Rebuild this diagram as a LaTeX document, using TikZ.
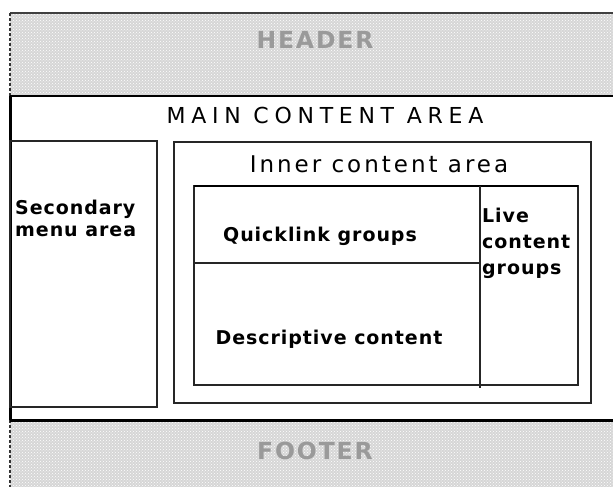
\documentclass[tikz,border=0pt]{standalone}
\usepackage{fontspec}
\usetikzlibrary{patterns}
\newfontfamily\titlefont[LetterSpace=26]{DejaVu Sans}
\newfontfamily\innerfont[LetterSpace=13]{DejaVu Sans}
\newfontfamily\labelfont[LetterSpace=5]{DejaVu Sans Bold}
\newfontfamily\bandfont[LetterSpace=8]{DejaVu Sans Bold}
\definecolor{bandfill}{HTML}{D6D6D6}
\definecolor{bandtext}{HTML}{9A9A9A}
\tikzset{
  band/.style={fill=bandfill},
  bandlabel/.style={text=bandtext, font=\bandfont\fontsize{23.5}{23.5}\selectfont, inner sep=0pt},
  frame/.style={draw=black!85, line width=1.3pt},
  title/.style={font=\titlefont\fontsize{22}{22}\selectfont, inner sep=0pt},
  innertitle/.style={font=\innerfont\fontsize{23}{23}\selectfont, inner sep=0pt},
  label/.style={font=\labelfont\fontsize{19}{22}\selectfont, inner sep=0pt, align=left},
}
\begin{document}
\begin{tikzpicture}[x=1pt,y=-1pt]
  \useasboundingbox (0,0) rectangle (613,487);
  \fill[white] (0,0) rectangle (613,487);

  % header and footer bands
  \fill[band] (10,13) rectangle (613,96);
  \fill[pattern=crosshatch dots, pattern color=white] (10,13) rectangle (613,96);
  \fill[band] (10,420) rectangle (613,487);
  \fill[pattern=crosshatch dots, pattern color=white] (10,420) rectangle (613,487);
  \draw[black!75, line width=1.8pt] (10,13) -- (613,13);
  \draw[black!80, line width=2.5pt, densely dashed] (10,13) -- (10,96);
  \draw[black!80, line width=2.5pt, densely dashed] (10,420) -- (10,487);
  \draw[black, line width=1.3pt] (10,96) -- (613,96);
  \draw[black, line width=3pt] (10,420) -- (613,420);
  \draw[black, line width=3pt] (10,96) -- (10,420);

  \node[bandlabel] (header) at (315,40) {HEADER};
  \node[bandlabel] (footer) at (315,451) {FOOTER};

  % main content area
  \node[title] (main) at (325,115) {MAIN CONTENT AREA};

  % secondary menu
  \draw[frame] (10,141) rectangle (157,407);
  \node[label, anchor=west] (menu) at (15,218) {Secondary\\menu area};

  % inner content area
  \draw[frame] (174,142) rectangle (591,403);
  \node[innertitle] (inner) at (379,164) {Inner content area};

  % content table
  \draw[frame] (194,186) rectangle (578,385);
  \draw[black, line width=2.2pt] (194,186) -- (578,186);
  \draw[frame] (480,186) -- (480,388);
  \draw[frame] (194,263) -- (480,263);

  \node[label] (quick) at (320,236) {Quicklink groups};
  \node[label] (desc) at (329,339) {Descriptive content};
  \node[label, anchor=north west, font=\labelfont\fontsize{19}{26}\selectfont] (live) at (482,208) {Live\\content\\groups};
\end{tikzpicture}
\end{document}
